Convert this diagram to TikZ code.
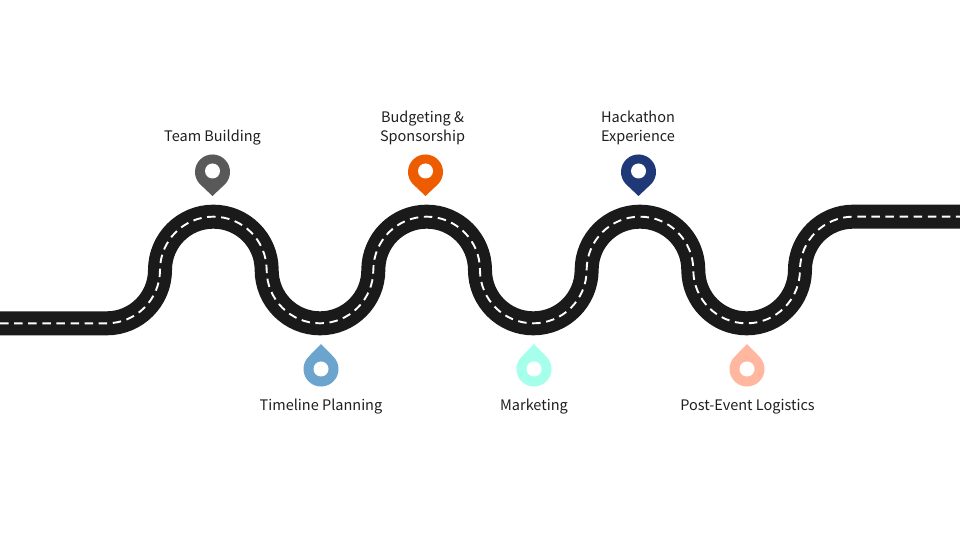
\documentclass[tikz,border=0pt]{standalone}
\usepackage{fontspec}
\setmainfont{Noto Sans CJK SC}
\definecolor{road}{HTML}{1A1A1A}
\definecolor{pinA}{HTML}{595959}
\definecolor{pinB}{HTML}{6BA4CC}
\definecolor{pinC}{HTML}{EE5C02}
\definecolor{pinD}{HTML}{1F3877}
\definecolor{pinE}{HTML}{A6FFEB}
\definecolor{pinF}{HTML}{FFB7A0}
\tikzset{
  x=1pt,y=1pt,
  roadbed/.style={draw=road,line width=24pt,line join=round},
  roadline/.style={draw=white,line width=1.9pt,dash pattern=on 8.5pt off 5.6pt},
  hole/.style={circle,fill=white,inner sep=0pt,minimum size=15pt},
  lbl/.style={font=\fontsize{14.5pt}{19pt}\selectfont,text=black!88,align=center,inner sep=0pt},
  pics/pintop/.style={code={
    \fill[#1] (0,-24) -- (-12.8,-11.9) arc (223:-43:17.5) -- cycle;
  }},
  pics/pinbottom/.style={code={
    \fill[#1] (0,25) -- (-12.8,11.9) arc (137:403:17.5) -- cycle;
  }},
}
\begin{document}
\begin{tikzpicture}
\useasboundingbox (0,0) rectangle (960,540);
\path[roadbed] (0,216.67) -- (106.67,216.67) arc (-90:0:53.33)
  arc (180:0:53.33) arc (180:360:53.33)
  arc (180:0:53.33) arc (180:360:53.33)
  arc (180:0:53.33) arc (180:360:53.33)
  arc (180:90:53.33) -- (960,323.33);
\path[roadline] (0,216.67) -- (106.67,216.67) arc (-90:0:53.33)
  arc (180:0:53.33) arc (180:360:53.33)
  arc (180:0:53.33) arc (180:360:53.33)
  arc (180:0:53.33) arc (180:360:53.33)
  arc (180:90:53.33) -- (960,323.33);

\pic at (212.5,368) {pintop={pinA}};
\node[hole] (h1) at (212.5,369) {};
\pic at (321,171) {pinbottom={pinB}};
\node[hole] (h2) at (321,171) {};
\pic at (425.5,368) {pintop={pinC}};
\node[hole] (h3) at (425.5,369) {};
\pic at (534,171) {pinbottom={pinE}};
\node[hole] (h4) at (534,171) {};
\pic at (638.5,368) {pintop={pinD}};
\node[hole] (h5) at (638.5,369) {};
\pic at (747,171) {pinbottom={pinF}};
\node[hole] (h6) at (747,171) {};

\node[lbl] (t1) at (212.5,402.5) {Team Building};
\node[lbl] (t2) at (321,133.5) {Timeline Planning};
\node[lbl] (t3) at (422.5,412) {Budgeting \&\\Sponsorship};
\node[lbl] (t4) at (534,133.5) {Marketing};
\node[lbl] (t5) at (638,412) {Hackathon\\Experience};
\node[lbl] (t6) at (747.5,133.5) {Post-Event Logistics};
\end{tikzpicture}
\end{document}
